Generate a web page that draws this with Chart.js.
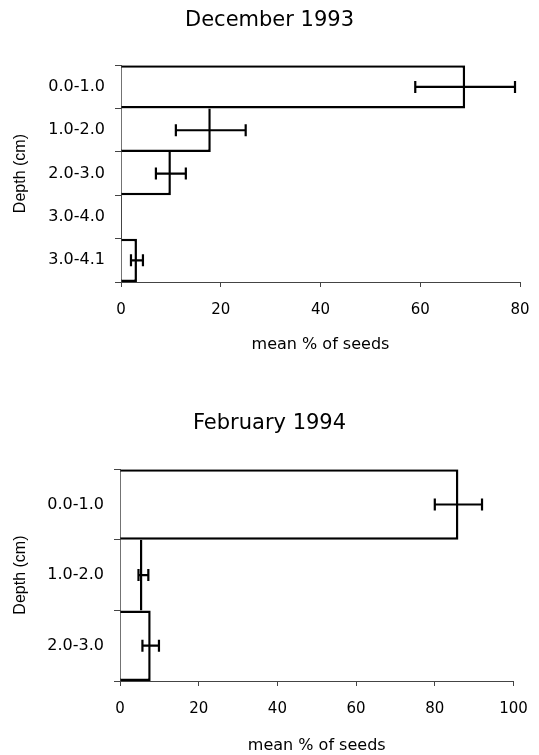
<!DOCTYPE html>
<html>
<head>
<meta charset="utf-8">
<script src="https://cdn.jsdelivr.net/npm/chart.js@4.4.1/dist/chart.umd.min.js"></script>
<style>
  html, body { margin: 0; padding: 0; background: #fff; }
  #wrap { position: relative; width: 539px; height: 755px; }
  canvas { position: absolute; left: 0; }
  #decChart { top: 0; }
  #febChart { top: 365px; }
</style>
</head>
<body>
<div id="wrap">
  <canvas id="decChart" width="539" height="365"></canvas>
  <canvas id="febChart" width="539" height="390"></canvas>
</div>
<script>
// December 1993
const decLabels = ["0.0-1.0", "1.0-2.0", "2.0-3.0", "3.0-4.0", "3.0-4.1"];
const decMeans = [69, 18, 10, 0, 3.2];
const decLow = [59, 11, 7, null, 2];
const decHigh = [79, 25, 13, null, 4.4];
const decTicks = [0, 20, 40, 60, 80];

// February 1994
const febLabels = ["0.0-1.0", "1.0-2.0", "2.0-3.0"];
const febMeans = [86, 5.7, 7.8];
const febLow = [80, 4.7, 5.7];
const febHigh = [92, 7.2, 9.9];
const febTicks = [0, 20, 40, 60, 80, 100];

const ink = "#000";
const axisGrey = "#444";

document.addEventListener("DOMContentLoaded", function () {

  // horizontal error bars with end caps, drawn over the bars
  const errorBars = {
    id: "errorBars",
    afterDatasetsDraw(chart, args, opts) {
      const ctx = chart.ctx;
      const xs = chart.scales.x;
      const meta = chart.getDatasetMeta(0);
      ctx.save();
      ctx.strokeStyle = ink;
      ctx.lineWidth = 2.2;
      opts.low.forEach(function (lo, i) {
        const hi = opts.high[i];
        if (lo == null || hi == null) return;
        const y = meta.data[i].y;
        const x0 = xs.getPixelForValue(lo);
        const x1 = xs.getPixelForValue(hi);
        ctx.beginPath();
        ctx.moveTo(x0, y);
        ctx.lineTo(x1, y);
        ctx.moveTo(x0, y - 6);
        ctx.lineTo(x0, y + 6);
        ctx.moveTo(x1, y - 6);
        ctx.lineTo(x1, y + 6);
        ctx.stroke();
      });
      ctx.restore();
    },
  };

  // shared edges between stacked bars are drawn once, by the longer bar
  function edgeWidths(values) {
    return function (c) {
      const i = c.dataIndex;
      const v = values[i];
      const prev = i > 0 ? values[i - 1] : -1;
      const next = i < values.length - 1 ? values[i + 1] : -1;
      return {
        top: prev >= v ? 0 : 2.5,
        bottom: next > v ? 0 : 2.5,
        right: 2.5,
        left: 0,
      };
    };
  }

  function makeChart(id, cfg) {
    const ctx = document.getElementById(id).getContext("2d");
    return new Chart(ctx, {
      type: "bar",
      data: {
        labels: cfg.labels,
        datasets: [
          {
            data: cfg.means,
            backgroundColor: "#fff",
            borderColor: ink,
            borderWidth: edgeWidths(cfg.means),
            borderSkipped: "start",
            inflateAmount: 0,
            barPercentage: 1,
            categoryPercentage: 1,
          },
        ],
      },
      options: {
        indexAxis: "y",
        responsive: false,
        animation: false,
        devicePixelRatio: 1,
        layout: { padding: 0 },
        plugins: {
          legend: { display: false },
          tooltip: { enabled: false },
          title: {
            display: true,
            text: cfg.title,
            color: ink,
            font: { family: "DejaVu Sans", size: 21, weight: "normal" },
            padding: cfg.titlePad,
          },
          errorBars: { low: cfg.low, high: cfg.high },
        },
        scales: {
          x: {
            type: "linear",
            min: 0,
            max: cfg.max,
            afterBuildTicks: function (s) {
              s.ticks = cfg.ticks.map(function (v) { return { value: v }; });
            },
            afterFit: function (s) {
              s.height = cfg.xHeight;
              s.paddingLeft = 0;
              s.paddingRight = cfg.padRight;
            },
            grid: {
              drawOnChartArea: false,
              drawTicks: true,
              tickLength: 5,
              color: axisGrey,
            },
            border: { display: true, color: axisGrey, width: 1 },
            ticks: {
              color: ink,
              padding: 14,
              maxRotation: 0,
              font: { family: "DejaVu Sans", size: 15 },
            },
            title: {
              display: true,
              text: "mean % of seeds",
              color: ink,
              font: { family: "DejaVu Sans", size: 16 },
              padding: { top: 0, bottom: cfg.xTitlePad },
            },
          },
          y: {
            afterFit: function (s) { s.width = cfg.yWidth; },
            grid: {
              drawOnChartArea: false,
              drawTicks: true,
              tickLength: 6,
              offset: true,
              color: axisGrey,
            },
            border: { display: true, color: axisGrey, width: 1 },
            ticks: {
              color: ink,
              padding: 10,
              font: { family: "DejaVu Sans", size: 16 },
            },
            title: {
              display: true,
              text: "Depth (cm)",
              color: ink,
              font: { family: "Liberation Sans", size: 16 },
              padding: { top: 11, bottom: 0 },
            },
          },
        },
      },
      plugins: [errorBars],
    });
  }

  makeChart("decChart", {
    title: "December 1993",
    labels: decLabels,
    means: decMeans,
    low: decLow,
    high: decHigh,
    ticks: decTicks,
    max: 80,
    padRight: 19,
    titlePad: { top: 8, bottom: 32 },
    xHeight: 83,
    xTitlePad: 11,
    yWidth: 121,
  });

  makeChart("febChart", {
    title: "February 1994",
    labels: febLabels,
    means: febMeans,
    low: febLow,
    high: febHigh,
    ticks: febTicks,
    max: 100,
    padRight: 25.5,
    titlePad: { top: 46, bottom: 33 },
    xHeight: 74,
    xTitlePad: 0,
    yWidth: 120,
  });
});
</script>
</body>
</html>
